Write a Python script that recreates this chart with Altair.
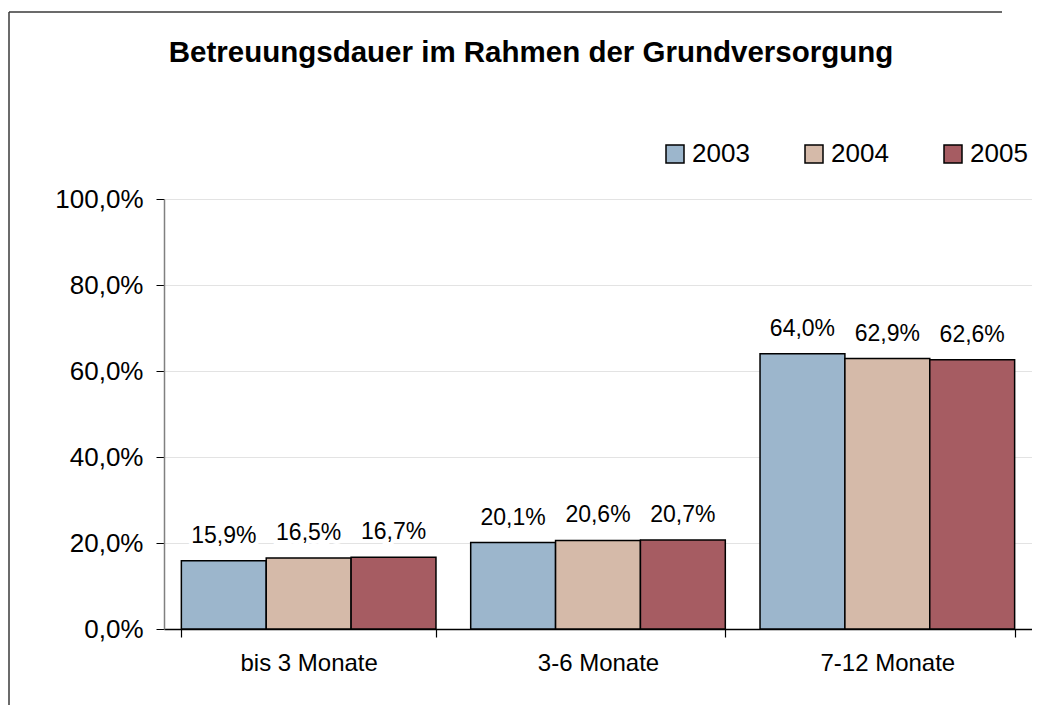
import altair as alt
import pandas as pd

categories = ["bis 3 Monate", "3-6 Monate", "7-12 Monate"]
years = ["2003", "2004", "2005"]
values_2003 = [0.159, 0.201, 0.640]
values_2004 = [0.165, 0.206, 0.629]
values_2005 = [0.167, 0.207, 0.626]
y_ticks = [0.0, 0.2, 0.4, 0.6, 0.8, 1.0]
colors = ["#9cb6cc", "#d5baa9", "#a65c62"]

rows = []
for yr, vals in zip(years, [values_2003, values_2004, values_2005]):
    for c, v in zip(categories, vals):
        rows.append({"cat": c, "year": yr, "value": v})
df = pd.DataFrame(rows)

FONT = "Liberation Sans"
W, H = 868, 430
PAD = {"left": 156, "top": 191, "right": 0, "bottom": 77}

x_enc = alt.X("cat:N", sort=categories, title=None,
              scale=alt.Scale(paddingInner=0.12, paddingOuter=0.06),
              axis=alt.Axis(tickBand="extent", grid=False, labelAngle=0,
                            labelFontSize=24, labelColor="black", labelFont=FONT,
                            labelPadding=14, tickSize=8, tickColor="#000000",
                            domainColor="#000000", domainWidth=1.5, tickWidth=1.2))
xo_enc = alt.XOffset("year:N", sort=years)
y_enc = alt.Y("value:Q", title=None,
              scale=alt.Scale(domain=[0, 1], nice=False),
              axis=alt.Axis(values=y_ticks,
                            labelExpr="replace(format(datum.value, '.1%'), '.', ',')",
                            labelFontSize=26, labelColor="black", labelFont=FONT,
                            labelPadding=13, tickSize=8, tickColor="#000000",
                            domainColor="#808080", domainWidth=1.5,
                            gridColor="#e3e3e3", gridWidth=1))

base = alt.Chart(df).transform_calculate(
    label="replace(format(datum.value, '.1%'), '.', ',')"
)

bars = base.mark_bar(stroke="black", strokeWidth=1.5).encode(
    x=x_enc, xOffset=xo_enc, y=y_enc,
    color=alt.Color("year:N", sort=years,
                    scale=alt.Scale(domain=years, range=colors),
                    legend=alt.Legend(title=None, orient="none", direction="horizontal",
                                      legendX=498, legendY=-58, padding=0,
                                      labelFontSize=26, labelFont=FONT, labelColor="black",
                                      symbolType="square", symbolSize=324,
                                      symbolStrokeColor="black", symbolStrokeWidth=1.5,
                                      labelOffset=4, columnPadding=51)),
)

halo = base.mark_text(baseline="alphabetic", dy=-18, fontSize=23, font=FONT,
                      fill="white", stroke="white", strokeWidth=8).encode(
    x=x_enc, xOffset=xo_enc, y=y_enc, text="label:N")
labels = base.mark_text(baseline="alphabetic", dy=-18, fontSize=23, font=FONT,
                        color="black").encode(
    x=x_enc, xOffset=xo_enc, y=y_enc, text="label:N")

frame_df = pd.DataFrame({"f": [0]})
frame_top = alt.Chart(frame_df).mark_rule(stroke="#3a3a3a", strokeWidth=1.5).encode(
    x=alt.value(-155), x2=alt.value(W - 30), y=alt.value(-187))
frame_left = alt.Chart(frame_df).mark_rule(stroke="#3a3a3a", strokeWidth=1.5).encode(
    x=alt.value(-155), y=alt.value(-187), y2=alt.value(H + PAD["bottom"] - 1))

chart = alt.layer(frame_top, frame_left, bars, halo, labels).properties(
    width=W, height=H,
    autosize=alt.AutoSizeParams(type="none"),
    padding=PAD,
    title=alt.TitleParams("Betreuungsdauer im Rahmen der Grundversorgung",
                          fontSize=29.5, fontWeight="bold", font=FONT, color="black",
                          anchor="middle", dx=-67, offset=-57),
).configure_view(stroke=None).configure(background="white")

chart.save("out.html", embed_options={"renderer": "svg", "actions": False})
